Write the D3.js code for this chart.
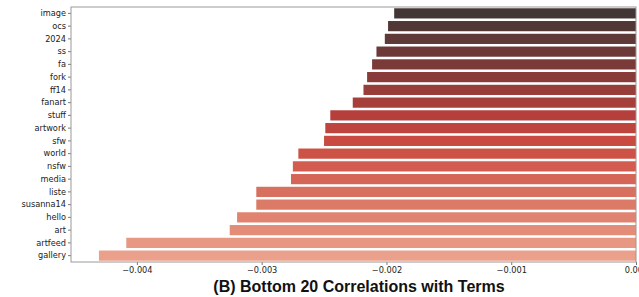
<!DOCTYPE html>
<html>
<head>
<meta charset="utf-8">
<script src="https://cdn.jsdelivr.net/npm/d3@7"></script>
<style>
  html, body { margin: 0; padding: 0; background: #fff; }
  svg { display: block; }
</style>
</head>
<body>
<svg id="chart" width="639" height="297"></svg>
<script>
const terms = ["image","ocs","2024","ss","fa","fork","ff14","fanart","stuff","artwork","sfw","world","nsfw","media","liste","susanna14","hello","art","artfeed","gallery"];
const correlations = [-0.001938,-0.001987,-0.002013,-0.00208,-0.002115,-0.002155,-0.002184,-0.00227,-0.00245,-0.00249,-0.0025,-0.002706,-0.00275,-0.002765,-0.003043,-0.003043,-0.003197,-0.003256,-0.004085,-0.004304];
const xTicks = [-0.004,-0.003,-0.002,-0.001,0.000];
const title = "(B) Bottom 20 Correlations with Terms";

const svg = d3.select("#chart");
const m = {left: 71, right: 3, top: 7, bottom: 35};
const W = 639, H = 297;
const x = d3.scaleLinear().domain([-0.004528, 0]).range([m.left, 636]);
const y = d3.scaleBand().domain(terms).range([m.top, H - m.bottom]).paddingInner(0.2).paddingOuter(0.1);

const color = d3.scaleLinear()
  .domain([0, 4, 8, 10, 11, 15, 19])
  .range(["#433736", "#7a3a38", "#b43f3c", "#c84a40", "#cd5246", "#dc7a68", "#eaa08a"])
  .interpolate(d3.interpolateRgb);

svg.append("g").selectAll("rect").data(terms).join("rect")
  .attr("x", (d, i) => x(correlations[i]))
  .attr("y", d => y(d))
  .attr("width", (d, i) => x(0) - x(correlations[i]))
  .attr("height", y.bandwidth())
  .attr("fill", (d, i) => color(i));

const axisFont = "DejaVu Sans";
const gx = svg.append("g").attr("transform", `translate(0,${H - m.bottom})`)
  .call(d3.axisBottom(x).tickValues(xTicks).tickSize(3).tickPadding(2)
    .tickFormat(d => d === 0 ? "0.000" : d3.format(".3f")(d).replace("-", "\u2212")));
const gy = svg.append("g").attr("transform", `translate(${m.left},0)`)
  .call(d3.axisLeft(y).tickSize(3).tickPadding(2));
[gx, gy].forEach(g => {
  g.select(".domain").remove();
  g.selectAll(".tick line").attr("stroke", "#555").attr("stroke-width", 0.8);
  g.selectAll(".tick text").attr("font-family", axisFont).attr("font-size", 8.2).attr("fill", "#222");
});

// spines
svg.append("rect")
  .attr("x", m.left).attr("y", m.top)
  .attr("width", 636 - m.left).attr("height", H - m.bottom - m.top)
  .attr("fill", "none").attr("stroke", "#999").attr("stroke-width", 1);

svg.append("text")
  .attr("x", 359).attr("y", 292)
  .attr("text-anchor", "middle")
  .attr("font-family", "Liberation Sans, Arial, sans-serif")
  .attr("font-weight", "bold").attr("font-size", 16)
  .attr("fill", "#111")
  .text(title);
</script>
</body>
</html>
